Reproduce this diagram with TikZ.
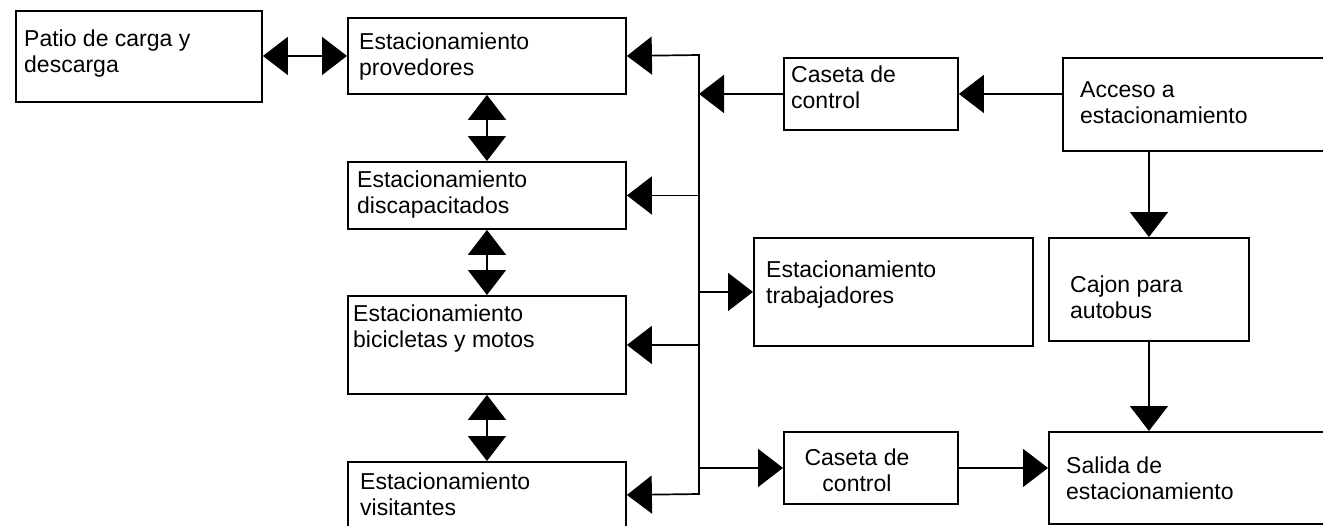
\documentclass[tikz,border=0pt]{standalone}
\usepackage{fontspec}
\setmainfont{Liberation Sans}
\usetikzlibrary{arrows.meta}
\tikzset{
  box/.style={draw=black, line width=1.9pt, inner sep=0pt, fill=none},
  txt/.style={inner sep=0pt, align=left, anchor=base west, font=\fontsize{23}{25.8}\selectfont},
  ctxt/.style={inner sep=0pt, align=center, anchor=base, font=\fontsize{23}{25.8}\selectfont},
  conn/.style={draw=black, line width=1.7pt},
  tip/.style={-{Triangle[length=25pt,width=38pt]}},
  bitip/.style={{Triangle[length=25pt,width=38pt]}-{Triangle[length=25pt,width=38pt]}}
}
\newcommand{\boxat}[5]{\node[box, minimum width=#4pt-#2pt, minimum height=#5pt-#3pt, anchor=north west] (#1) at (#2,#3) {};}
\begin{document}
\begin{tikzpicture}[x=1pt,y=-1pt]
\useasboundingbox (0,0) rectangle (1323,525);
\fill[white] (0,0) rectangle (1323,525);
\clip (0,0) rectangle (1323,525);
% boxes
\boxat{patio}{15}{10}{261}{101}
\boxat{prov}{347}{17}{625}{93}
\boxat{disc}{347}{161}{625}{228}
\boxat{bici}{347}{295}{625}{393}
\boxat{visi}{347}{461}{625}{527}
\boxat{casT}{783}{57}{957}{129}
\boxat{acc}{1062}{57}{1340}{150}
\boxat{trab}{753}{237}{1032}{345}
\boxat{caj}{1048}{237}{1248}{340}
\boxat{casB}{783}{431}{957}{503}
\boxat{sal}{1048}{431}{1340}{523}
% texts (anchored at the baseline of the last line)
\node[txt] (tpatio) at (24,72) {Patio de carga y\\descarga};
\node[txt] (tprov) at (359,75) {Estacionamiento\\provedores};
\node[txt] (tdisc) at (357,213) {Estacionamiento\\discapacitados};
\node[txt] (tbici) at (353,347) {Estacionamiento\\bicicletas y motos};
\node[txt] (tvisi) at (360,515) {Estacionamiento\\visitantes};
\node[txt] (tcasT) at (791,108) {Caseta de\\control};
\node[txt] (tacc) at (1080,123) {Acceso a\\estacionamiento};
\node[txt] (ttrab) at (766,303) {Estacionamiento\\trabajadores};
\node[txt] (tcaj) at (1070,318) {Cajon para\\autobus};
\node[ctxt] (tcasB) at (857,491) {Caseta de\\control};
\node[txt] (tsal) at (1066,499) {Salida de\\estacionamiento};
% bus
\coordinate (bt) at (699,55);
\coordinate (bb) at (699,494);
\draw[conn, bitip] (prov.east) -- (bt) -- (bb) -- (visi.east);
% connectors
\draw[conn, bitip] (patio.east |- prov.west) -- (prov.west);
\draw[conn, bitip] (prov.south) -- (disc.north);
\draw[conn, bitip] (disc.south) -- (bici.north);
\draw[conn, bitip] (bici.south) -- (visi.north);
\draw[conn, tip] (bt |- disc.east) -- (disc.east);
\draw[conn, tip] (bt |- bici.east) -- (bici.east);
\draw[conn, tip] (casT.west) -- (bt |- casT.west);
\draw[conn, tip] (acc.west |- casT.east) -- (casT.east);
\draw[conn, tip] (bt |- trab.west) -- (trab.west);
\draw[conn, tip] (bt |- casB.west) -- (casB.west);
\draw[conn, tip] (casB.east) -- (casB.east -| sal.west);
\draw[conn, tip] (caj.north |- acc.south) -- (caj.north);
\draw[conn, tip] (caj.south) -- (caj.south |- sal.north);
\end{tikzpicture}
\end{document}
